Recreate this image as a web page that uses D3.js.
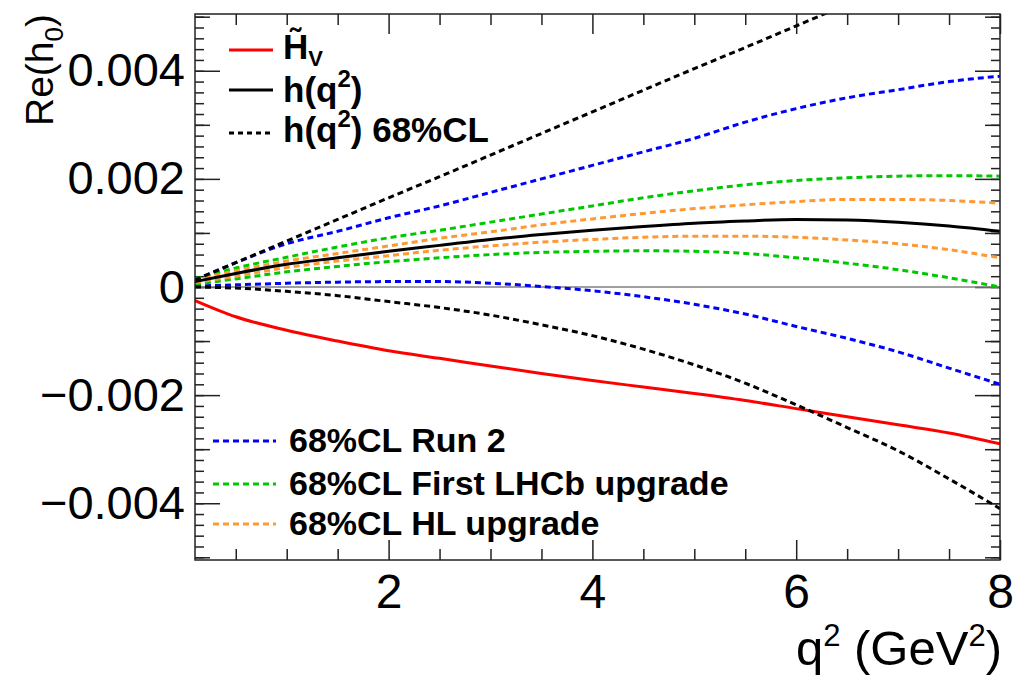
<!DOCTYPE html>
<html>
<head>
<meta charset="utf-8">
<script src="https://cdn.jsdelivr.net/npm/d3@7"></script>
<style>
  body { margin: 0; background: #fff; }
  svg { display: block; font-family: "Liberation Sans", Arial, sans-serif; }
</style>
</head>
<body>
<script>
// q^2 sample points (GeV^2)
const qValues = [0.1, 0.5, 1, 1.5, 2, 2.5, 3, 3.5, 4, 4.5, 5, 5.5, 6, 6.5, 7, 7.5, 8];

// Re(h0) curves
const hvTilde = [-0.00025, -0.00055, -0.0008, -0.001, -0.00118, -0.00132, -0.00146, -0.0016, -0.00173, -0.00185, -0.00197, -0.0021, -0.00225, -0.0024, -0.00255, -0.0027, -0.0029];
const hCentral = [0.0001, 0.00025, 0.00042, 0.00054, 0.00066, 0.00077, 0.00088, 0.00097, 0.00105, 0.00112, 0.00118, 0.00122, 0.00125, 0.00124, 0.0012, 0.00113, 0.00103];
const hHigh68 = [0.00013, 0.00045, 0.00085, 0.00125, 0.00165, 0.00204, 0.00244, 0.00284, 0.00324, 0.00364, 0.00404, 0.00443, 0.00483, 0.00523, null, null, null];
const hLow68 = [0.0, -0.00002, -0.00008, -0.00016, -0.00027, -0.00038, -0.00052, -0.0007, -0.0009, -0.00115, -0.00144, -0.00178, -0.00218, -0.0026, -0.00303, -0.00355, -0.0041];
const run2High = [0.00013, 0.00045, 0.0008, 0.00103, 0.00128, 0.0015, 0.00175, 0.002, 0.00225, 0.0025, 0.00275, 0.00305, 0.0033, 0.0035, 0.00365, 0.0038, 0.0039];
const run2Low = [0.00002, 0.00004, 0.00007, 0.00009, 0.0001, 0.0001, 0.00007, 0.00001, -0.00007, -0.00018, -0.00032, -0.0005, -0.00073, -0.00095, -0.0012, -0.0015, -0.0018];
const lhcbHigh = [0.00015, 0.00035, 0.00055, 0.00074, 0.00091, 0.00105, 0.0012, 0.00135, 0.0015, 0.00165, 0.00178, 0.00189, 0.00197, 0.00202, 0.00205, 0.00206, 0.00205];
const lhcbLow = [0.00005, 0.00015, 0.00028, 0.00038, 0.00047, 0.00054, 0.0006, 0.00064, 0.00066, 0.00067, 0.00066, 0.00062, 0.00054, 0.00044, 0.00032, 0.00017, 0.0];
const hlHigh = [0.00013, 0.0003, 0.00048, 0.00062, 0.00076, 0.0009, 0.00102, 0.00115, 0.00126, 0.00136, 0.00145, 0.00152, 0.00158, 0.00162, 0.00162, 0.0016, 0.00155];
const hlLow = [0.00008, 0.0002, 0.00036, 0.00048, 0.00058, 0.00068, 0.00076, 0.00083, 0.00088, 0.00092, 0.00094, 0.00094, 0.00092, 0.00087, 0.0008, 0.00069, 0.00054];

// axis ticks
const xMajorTicks = [2, 4, 6, 8];
const xTickLabels = ["2", "4", "6", "8"];
const yMajorTicks = [-0.004, -0.002, 0, 0.002, 0.004];
const yTickLabels = ["\u22120.004", "\u22120.002", "0", "0.002", "0.004"];

const width = 1014;
const height = 675;
const frame = { left: 195, right: 1000, top: 14, bottom: 560 };

const svg = d3
  .select("body")
  .append("svg")
  .attr("width", width)
  .attr("height", height);

const xScale = d3.scaleLinear().domain([0.1, 8]).range([frame.left, frame.right]);
const yScale = d3.scaleLinear().domain([-0.00505, 0.00505]).range([frame.bottom, frame.top]);

svg
  .append("clipPath")
  .attr("id", "plot-clip")
  .append("rect")
  .attr("x", frame.left)
  .attr("y", frame.top)
  .attr("width", frame.right - frame.left)
  .attr("height", frame.bottom - frame.top);

// ---- axes ----
const xMinor = d3.range(0.5, 8, 0.5).filter((v) => !xMajorTicks.includes(v));
const yMinor = d3.range(-50, 51, 2).map((v) => v / 10000).filter((v) => Math.abs(v) <= 0.005);
const yMid = [-0.005, -0.003, -0.001, 0.001, 0.003, 0.005];

const drawTicks = (axisFn, scale, values, size, transform) => {
  svg
    .append("g")
    .attr("transform", transform)
    .call(axisFn(scale).tickValues(values).tickSize(size).tickFormat(""))
    .call((g) => g.select(".domain").remove())
    .selectAll("line")
    .attr("stroke", "#222")
    .attr("stroke-width", 1.5);
};

// bottom / top
drawTicks(d3.axisBottom, xScale, xMinor, -11, `translate(0,${frame.bottom})`);
drawTicks(d3.axisBottom, xScale, xMajorTicks, -20, `translate(0,${frame.bottom})`);
drawTicks(d3.axisTop, xScale, xMinor, -11, `translate(0,${frame.top})`);
drawTicks(d3.axisTop, xScale, xMajorTicks, -20, `translate(0,${frame.top})`);
// left / right
drawTicks(d3.axisLeft, yScale, yMinor, -9, `translate(${frame.left},0)`);
drawTicks(d3.axisLeft, yScale, yMid, -15, `translate(${frame.left},0)`);
drawTicks(d3.axisLeft, yScale, yMajorTicks, -25, `translate(${frame.left},0)`);
drawTicks(d3.axisRight, yScale, yMinor, -9, `translate(${frame.right},0)`);
drawTicks(d3.axisRight, yScale, yMid, -15, `translate(${frame.right},0)`);
drawTicks(d3.axisRight, yScale, yMajorTicks, -25, `translate(${frame.right},0)`);

// labels
svg
  .append("g")
  .attr("transform", `translate(0,${frame.bottom})`)
  .call(
    d3
      .axisBottom(xScale)
      .tickValues(xMajorTicks)
      .tickSize(0)
      .tickPadding(14)
      .tickFormat((d, i) => xTickLabels[i])
  )
  .call((g) => g.select(".domain").remove())
  .selectAll("text")
  .attr("font-size", 48)
  .attr("font-family", "Liberation Sans, Arial, sans-serif")
  .attr("fill", "#000");

svg
  .append("g")
  .attr("transform", `translate(${frame.left},0)`)
  .call(
    d3
      .axisLeft(yScale)
      .tickValues(yMajorTicks)
      .tickSize(0)
      .tickPadding(10)
      .tickFormat((d, i) => yTickLabels[i])
  )
  .call((g) => g.select(".domain").remove())
  .selectAll("text")
  .attr("font-size", 47)
  .attr("font-family", "Liberation Sans, Arial, sans-serif")
  .attr("fill", "#000");

// axis titles
const xTitle = svg
  .append("text")
  .attr("x", frame.right + 2)
  .attr("y", 665)
  .attr("text-anchor", "end")
  .attr("font-size", 49);
xTitle.append("tspan").text("q");
xTitle.append("tspan").attr("font-size", 31).attr("dy", -19).text("2");
xTitle.append("tspan").attr("dy", 19).text(" (GeV");
xTitle.append("tspan").attr("font-size", 31).attr("dy", -19).text("2");
xTitle.append("tspan").attr("dy", 19).text(")");

const yTitle = svg
  .append("text")
  .attr("transform", `translate(53,${frame.top}) rotate(-90)`)
  .attr("text-anchor", "end")
  .attr("font-size", 39);
yTitle.append("tspan").text("Re(h");
yTitle.append("tspan").attr("font-size", 26).attr("dy", 10).text("0");
yTitle.append("tspan").attr("dy", -10).text(")");

// ---- curves ----
const plot = svg.append("g").attr("clip-path", "url(#plot-clip)");

plot
  .append("line")
  .attr("x1", frame.left)
  .attr("x2", frame.right)
  .attr("y1", yScale(0))
  .attr("y2", yScale(0))
  .attr("stroke", "#7f7f7f")
  .attr("stroke-width", 1.5);

const line = d3
  .line()
  .defined((d) => d[1] !== null)
  .x((d) => xScale(d[0]))
  .y((d) => yScale(d[1]))
  .curve(d3.curveMonotoneX);

const series = [
  { values: hvTilde, color: "#ff0000", dash: null },
  { values: run2High, color: "#0000ff", dash: "6,4" },
  { values: run2Low, color: "#0000ff", dash: "6,4" },
  { values: lhcbHigh, color: "#00c800", dash: "6,4" },
  { values: lhcbLow, color: "#00c800", dash: "6,4" },
  { values: hlHigh, color: "#ff9933", dash: "6,4" },
  { values: hlLow, color: "#ff9933", dash: "6,4" },
  { values: hCentral, color: "#000000", dash: null },
  { values: hHigh68, color: "#000000", dash: "6,4" },
  { values: hLow68, color: "#000000", dash: "6,4" },
];

series.forEach((s) => {
  plot
    .append("path")
    .datum(qValues.map((q, i) => [q, s.values[i]]))
    .attr("d", line)
    .attr("fill", "none")
    .attr("stroke", s.color)
    .attr("stroke-width", 3)
    .attr("stroke-dasharray", s.dash);
});

// frame
svg
  .append("rect")
  .attr("x", frame.left)
  .attr("y", frame.top)
  .attr("width", frame.right - frame.left)
  .attr("height", frame.bottom - frame.top)
  .attr("fill", "none")
  .attr("stroke", "#222")
  .attr("stroke-width", 1.5);

// ---- legends ----
const legendEntry = (y, color, dash, x1, x2) => {
  svg
    .append("line")
    .attr("x1", x1)
    .attr("x2", x2)
    .attr("y1", y)
    .attr("y2", y)
    .attr("stroke", color)
    .attr("stroke-width", 3)
    .attr("stroke-dasharray", dash);
};

const legendText = (x, y, size) =>
  svg
    .append("text")
    .attr("x", x)
    .attr("y", y)
    .attr("font-size", size)
    .attr("font-weight", "bold");

legendEntry(50, "#ff0000", null, 229, 273);
legendEntry(90, "#000000", null, 229, 273);
legendEntry(133, "#000000", "5,4", 229, 273);

const t1 = legendText(283, 59, 35);
t1.append("tspan").text("H\u0303");
t1.append("tspan").attr("font-size", 22).attr("dy", 7).text("V");

const t2 = legendText(283, 102, 35);
t2.append("tspan").text("h(q");
t2.append("tspan").attr("font-size", 24).attr("dy", -15).text("2");
t2.append("tspan").attr("dy", 15).text(")");

const t3 = legendText(283, 142, 35);
t3.append("tspan").text("h(q");
t3.append("tspan").attr("font-size", 24).attr("dy", -15).text("2");
t3.append("tspan").attr("dy", 15).text(") 68%CL");

legendEntry(441, "#0000ff", "6,4", 213, 276);
legendEntry(484, "#00c800", "6,4", 213, 276);
legendEntry(524, "#ff9933", "6,4", 213, 276);

legendText(289, 452, 34).text("68%CL Run 2");
legendText(289, 495, 34).text("68%CL First LHCb upgrade");
legendText(289, 535, 34).text("68%CL HL upgrade");
</script>
</body>
</html>
